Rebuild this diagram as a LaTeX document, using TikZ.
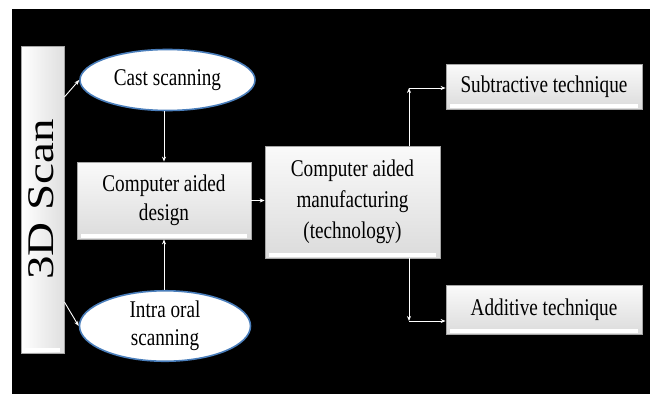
\documentclass[tikz,border=0pt]{standalone}
\usepackage{fontspec}
\setmainfont[FakeStretch=0.8]{Liberation Serif}
\newfontfamily\scanfont{Liberation Serif}
\usepackage{graphicx}
\usepackage{tikz}
\usetikzlibrary{shapes.geometric}
\usetikzlibrary{arrows.meta}

\definecolor{ovalblue}{HTML}{4A7EBB}

\tikzset{
   plain box/.style={
      draw = gray!70,
      line width = .8pt,
      inner sep = 0pt,
      align = center,
      font = \fontsize{24}{29}\selectfont,
      path picture = {
         \fill[white] ([shift={(4pt,1.5pt)}]path picture bounding box.south west)
            rectangle ([shift={(-4pt,5pt)}]path picture bounding box.south east);
      }
   },
   box/.style={
      plain box,
      top color = gray!4,
      bottom color = gray!28
   },
   bar/.style={
      plain box,
      left color = white,
      right color = gray!25
   },
   oval/.style={
      ellipse,
      draw = ovalblue,
      line width = 1.6pt,
      fill = white,
      inner sep = 0pt,
      align = center,
      font = \fontsize{24}{28}\selectfont
   },
   arr/.style={
      draw = white,
      line width = .9pt,
      -{Stealth[length=5pt,width=4pt]}
   }
}

\begin{document}
\begin{tikzpicture}[x=1pt,y=-1pt]
   \fill[white] (0,0) rectangle (650,394);
   \fill[black] (12,9) rectangle (650,394);

   \node[name=scan, bar, minimum width=43pt, minimum height=307pt] at (42.5,199.5) {};
   \node[rotate=90, font=\scanfont\fontsize{47}{50}\selectfont] (scantext) at (41,199.5)
      {\scalebox{1}[0.8]{3D Scan}};

   \node[name=cast, oval, minimum width=175pt, minimum height=61pt] at (167.5,80) {Cast scanning};
   \node[name=intra, oval, minimum width=171pt, minimum height=70pt] at (165,326) {Intra oral\\scanning};

   \node[name=cad, box, minimum width=174pt, minimum height=77pt] at (164,200.5) {Computer aided\\design};
   \node[name=cam, box, minimum width=175pt, minimum height=112pt, font=\fontsize{24}{31}\selectfont]
      at (352.5,202) {Computer aided\\manufacturing\\(technology)};

   \node[name=sub, box, minimum width=196pt, minimum height=45pt] at (544,86.5) {Subtractive technique};
   \node[name=add, box, minimum width=196pt, minimum height=49pt] at (544,309.5) {Additive technique};

   \coordinate (up) at (409,88);
   \coordinate (down) at (409,321);

   \draw[arr] ([yshift=102.5pt]scan.east) -- (cast.west);
   \draw[arr] ([yshift=-102.5pt]scan.east) -- (intra.west);
   \draw[arr] (cast.south -| cad) -- (cad.north);
   \draw[arr] (intra.north -| cad) -- (cad.south);
   \draw[arr] (cad.east) -- (cad.east -| cam.west);

   \draw[arr] (cam.north -| up) -- (up);
   \draw[arr] (up) -- (up -| sub.west);
   \draw[arr] (cam.south -| down) -- (down);
   \draw[arr] (down) -- (down -| add.west);
\end{tikzpicture}
\end{document}
